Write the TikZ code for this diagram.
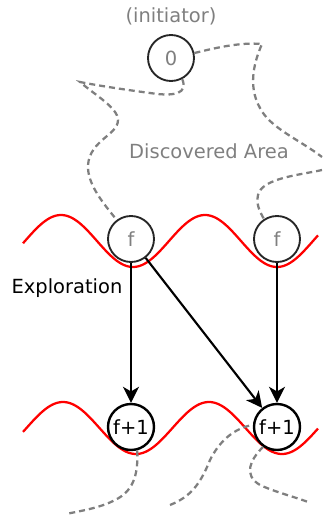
\documentclass[tikz,border=0pt]{standalone}
\usepackage{fontspec}
\setmainfont{DejaVu Sans}
\usetikzlibrary{arrows.meta}
\definecolor{areagray}{HTML}{7F7F7F}
\begin{document}
\begin{tikzpicture}[x=0.75pt,y=-0.75pt,
  every node/.style={font=\fontsize{14.6}{17}\selectfont},
  proc/.style={circle, draw=black!85, line width=1.4pt, fill=white,
    minimum size=34.5pt, inner sep=0pt, text=areagray},
  newproc/.style={proc, draw=black, line width=1.8pt, text=black},
  label/.style={text=areagray},
  front/.style={red, line width=1.7pt},
  explore/.style={line width=1.6pt, -{Stealth[length=12pt,width=12pt,inset=3.5pt]}},
  boundary/.style={areagray, line width=1.7pt, dash pattern=on 4.5pt off 3pt}]
\useasboundingbox (0,0) rectangle (323,515);

% wave fronts of levels f and f+1
\draw[front] plot[domain=23:318, samples=150, variable=\x]
  ({\x},{241-26*cos(2.5*(\x-61))});
\draw[front] plot[domain=23:318, samples=150, variable=\x]
  ({\x},{428-26*cos(2.466*(\x-63))});

% processes
\node[proc] (n0) at (171,58) {0};
\node[proc] (fl) at (131,239) {f};
\node[proc] (fr) at (277,239) {f};
\node[newproc] (gl) at (131,427) {f+1};
\node[newproc] (gr) at (277,427) {f+1};

% texts
\node[label] (init) at (171,16) {(initiator)};
\node[label] (area) at (209,151) {Discovered Area};
\node (expl) at (67,288) {Exploration};

% exploration steps
\draw[explore] (fl) -- (gl);
\draw[explore] (fl) -- (gr);
\draw[explore] (fr) -- (gr);

% border of the discovered area
\draw[boundary] (n0.12) .. controls (215,48) and (240,42) .. (262,44)
  .. controls (255,60) and (247,85) .. (260,108)
  .. controls (270,128) and (300,140) .. (322,157);
\draw[boundary] (n0.-62) .. controls (188,93) and (176,97) .. (150,93)
  .. controls (120,89) and (95,85) .. (80,82)
  .. controls (95,95) and (118,108) .. (118,120)
  .. controls (118,135) and (90,140) .. (88,165)
  .. controls (87,185) and (105,205) .. (fl.127);
\draw[boundary] (322,170) .. controls (300,175) and (262,178) .. (258,195)
  .. controls (256,205) and (260,212) .. (fr.123);

% border beyond level f+1
\draw[boundary] (gl.-75) .. controls (138,470) and (136,490) .. (115,500)
  .. controls (100,508) and (80,511) .. (66,514);
\draw[boundary] (170,505) .. controls (190,497) and (200,485) .. (210,460)
  .. controls (220,440) and (235,428) .. (gr.175);
\draw[boundary] (gr.-125) .. controls (250,460) and (243,475) .. (260,485)
  .. controls (275,492) and (295,497) .. (308,502);
\end{tikzpicture}
\end{document}
